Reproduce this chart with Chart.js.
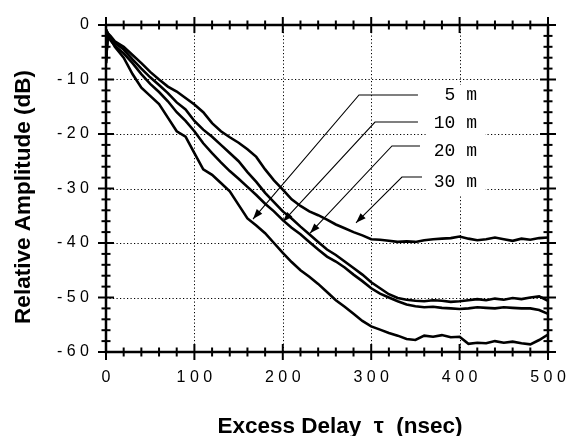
<!DOCTYPE html>
<html><head><meta charset="utf-8">
<script src="https://cdn.jsdelivr.net/npm/chart.js@4.4.1/dist/chart.umd.min.js"></script>
<style>html,body{margin:0;padding:0;background:#fff;}canvas{display:block;}</style>
</head><body>
<canvas id="c" width="567" height="436"></canvas>
<script>
// ---- data (excess delay in ns, relative amplitude in dB) ----
const delays = [0,2,5,10,20,30,40,50,60,70,80,90,100,110,120,130,140,150,160,170,180,190,200,
  210,220,230,240,250,260,270,280,290,300,310,320,330,340,350,360,370,380,390,400,
  410,420,430,440,450,460,470,480,490,500];
const amp5m = [-7,-1.5,-2.5,
  -4,-6,-9,-11.5,-13,-14.5,-17,-19.5,-20.5,-23.5,
  -26.5,-27.5,-29,-30.5,-33,-35.5,-36.8,-38.2,-40,-41.8,
  -43.5,-45,-46.2,-47.5,-49,-50.5,-51.7,-53,-54.3,-55.3,
  -55.9,-56.5,-57.0,-57.6,-57.8,-57.0,-57.2,-56.9,-57.3,-57.2,
  -58.5,-58.3,-58.4,-58.0,-58.3,-58.1,-58.4,-58.6,-57.8,-56.8];
const amp10m = [-6.5,-1.8,-2.8,
  -3.8,-5.2,-7,-9,-10.8,-12.3,-14,-16,-17.6,-19.5,
  -21.7,-23.5,-25.2,-26.8,-28.2,-29.7,-31.2,-32.8,-34.2,-35.8,
  -37.2,-38.4,-39.8,-41.2,-42.5,-43.4,-44.5,-45.8,-47,-48.3,
  -49.3,-50,-50.7,-51.3,-51.6,-51.8,-51.7,-51.9,-52.0,-52.1,
  -52.0,-51.8,-51.9,-52.0,-51.8,-51.9,-52.0,-52.0,-52.3,-53.0];
const amp20m = [-6,-1.5,-2.5,
  -3.3,-4.5,-6.3,-8,-9.6,-11,-12.5,-14.2,-15.5,-17.6,
  -19.2,-20.5,-22,-23.5,-25,-27,-28.8,-30.8,-32.5,-34.2,
  -35.5,-37,-38.4,-39.8,-41.2,-42.2,-43.4,-44.6,-45.8,-47.2,
  -48.3,-49.4,-50.1,-50.4,-50.6,-50.7,-50.5,-50.6,-50.8,-50.7,
  -50.5,-50.3,-50.5,-50.2,-50.4,-50.1,-50.3,-50.0,-49.8,-50.6];
const amp30m = [-7,-1.5,-2,
  -3,-4,-5.5,-7,-8.6,-10,-11.3,-12.2,-13.4,-14.6,
  -16,-18,-19.5,-20.6,-21.6,-22.8,-24.2,-26.5,-28.5,-30.2,
  -32,-33.2,-34.2,-34.9,-35.7,-36.6,-37.3,-38,-38.6,-39.3,
  -39.4,-39.6,-39.8,-39.7,-39.8,-39.5,-39.3,-39.2,-39.1,-38.8,
  -39.2,-39.5,-39.3,-39.0,-39.3,-39.6,-39.2,-39.4,-39.1,-39.0];
const seriesNames = ["5 m","10 m","20 m","30 m"];
const xTickLabels = ["0","1 0 0","2 0 0","3 0 0","4 0 0","5 0 0"];
const yTickLabels = ["- 6 0","- 5 0","- 4 0","- 3 0","- 2 0","- 1 0","0"];
const xTitle = "Excess Delay  \u03C4  (nsec)";
const yTitle = "Relative Amplitude (dB)";
// annotation anchors (data units: ns, dB)
const labelRightX = 419.7;
const labelY = [-12.84, -18.0, -23.1, -28.8];
const leaderY = [-12.84, -17.8, -22.2, -27.9];
const leaderStartX = [352.9, 352.9, 355.2, 357.5];
const elbowX = [286.2, 304.3, 323.5, 334.8];
const tipX = [166.3, 200.2, 230.8, 282.8];
const tipY = [-35.6, -36.1, -38.2, -36.3];

const allSeries = [amp5m, amp10m, amp20m, amp30m];
const datasets = allSeries.map((arr, k) => ({
  label: seriesNames[k],
  data: delays.map((d, i) => ({x: d, y: arr[i]})),
  borderColor: '#000', borderWidth: 2.6, pointRadius: 0, tension: 0, fill: false
}));

function seg(ctx, x1, y1, x2, y2){ ctx.beginPath(); ctx.moveTo(x1,y1); ctx.lineTo(x2,y2); ctx.stroke(); }

const LABEL_FONT = '18px "Liberation Mono"';

const framePlugin = {
  id: 'frame',
  beforeDatasetsDraw(chart){
    const {ctx, chartArea: a, scales: {x, y}} = chart;
    ctx.save();
    ctx.strokeStyle = '#000'; ctx.lineWidth = 1; ctx.setLineDash([1.2, 2.3]);
    for (let v = 100; v < 500; v += 100){ const p = Math.round(x.getPixelForValue(v)) + 0.5; seg(ctx, p, a.top, p, a.bottom); }
    for (let v = -50; v < 0; v += 10){ const p = Math.round(y.getPixelForValue(v)) + 0.5; seg(ctx, a.left, p, a.right, p); }
    ctx.setLineDash([]);
    // white box behind label column
    ctx.font = LABEL_FONT;
    const rx = x.getPixelForValue(labelRightX);
    let minL = rx;
    seriesNames.forEach(s => { minL = Math.min(minL, rx - ctx.measureText(s).width); });
    const top = y.getPixelForValue(labelY[0]) - 10;
    const bot = y.getPixelForValue(labelY[3]) + 13;
    ctx.fillStyle = '#fff';
    ctx.fillRect(minL - 8, top, rx - minL + 16, bot - top);
    ctx.restore();
  },
  afterDatasetsDraw(chart){
    const {ctx, scales: {x, y}} = chart;
    ctx.save();
    ctx.fillStyle = '#000'; ctx.strokeStyle = '#000';
    ctx.font = LABEL_FONT; ctx.textAlign = 'right'; ctx.textBaseline = 'middle';
    const rx = x.getPixelForValue(labelRightX);
    seriesNames.forEach((s, k) => {
      ctx.fillText(s, rx, y.getPixelForValue(labelY[k]));
      const sx = x.getPixelForValue(leaderStartX[k]), ly = y.getPixelForValue(leaderY[k]);
      const ex = x.getPixelForValue(elbowX[k]);
      const tx = x.getPixelForValue(tipX[k]), ty = y.getPixelForValue(tipY[k]);
      ctx.lineWidth = 1.1;
      ctx.beginPath(); ctx.moveTo(sx, ly); ctx.lineTo(ex, ly); ctx.lineTo(tx, ty); ctx.stroke();
      const ang = Math.atan2(ty - ly, tx - ex), L = 10, W = 3.6;
      const bx = tx - L * Math.cos(ang), by = ty - L * Math.sin(ang);
      ctx.beginPath();
      ctx.moveTo(tx, ty);
      ctx.lineTo(bx + W * Math.sin(ang), by - W * Math.cos(ang));
      ctx.lineTo(bx - W * Math.sin(ang), by + W * Math.cos(ang));
      ctx.closePath(); ctx.fill();
    });
    ctx.restore();
  },
  afterDraw(chart){
    const {ctx, chartArea: a, scales: {x, y}} = chart;
    ctx.save();
    ctx.strokeStyle = '#000'; ctx.lineCap = 'butt';
    ctx.lineWidth = 2.5;
    ctx.strokeRect(a.left, a.top, a.right - a.left, a.bottom - a.top);
    ctx.lineWidth = 2;
    for (let v = 0; v <= 500; v += 20){
      const p = x.getPixelForValue(v), h = (v % 100 === 0) ? 8 : 4.5;
      seg(ctx, p, a.bottom - h, p, a.bottom + h);
      seg(ctx, p, a.top - h, p, a.top + h);
    }
    for (let v = -60; v <= 0; v += 2){
      const p = y.getPixelForValue(v), h = (v % 10 === 0) ? 8 : 4.5;
      seg(ctx, a.left - h, p, a.left + h, p);
      seg(ctx, a.right - h, p, a.right + h, p);
    }
    ctx.fillStyle = '#000';
    ctx.font = 'bold 22.5px "Liberation Sans"';
    ctx.textAlign = 'center'; ctx.textBaseline = 'middle';
    ctx.fillText(xTitle, 340, 427);
    ctx.translate(24, 197); ctx.rotate(-Math.PI / 2);
    ctx.fillText(yTitle, 0, 0);
    ctx.restore();
  }
};

new Chart(document.getElementById('c'), {
  type: 'line',
  data: { datasets },
  plugins: [framePlugin],
  options: {
    responsive: false, animation: false, devicePixelRatio: 1,
    layout: { padding: { left: 0, top: 25, right: 19, bottom: 0 } },
    plugins: { legend: { display: false }, tooltip: { enabled: false } },
    scales: {
      x: {
        type: 'linear', min: 0, max: 500,
        grid: { display: false, drawTicks: false }, border: { display: false },
        ticks: { stepSize: 100, autoSkip: false, maxRotation: 0, padding: 16, color: '#000',
          font: { family: 'Liberation Sans', size: 16 },
          callback: v => xTickLabels[Math.round(v / 100)] },
        afterFit: s => { s.height = 84; s.paddingLeft = 0; s.paddingRight = 0; }
      },
      y: {
        type: 'linear', min: -60, max: 0,
        grid: { display: false, drawTicks: false }, border: { display: false },
        ticks: { stepSize: 10, autoSkip: false, padding: 17, color: '#000',
          font: { family: 'Liberation Sans', size: 16 },
          callback: v => yTickLabels[Math.round((v + 60) / 10)] },
        afterFit: s => { s.width = 106; s.paddingTop = 0; s.paddingBottom = 0; }
      }
    }
  }
});
</script>
</body></html>
